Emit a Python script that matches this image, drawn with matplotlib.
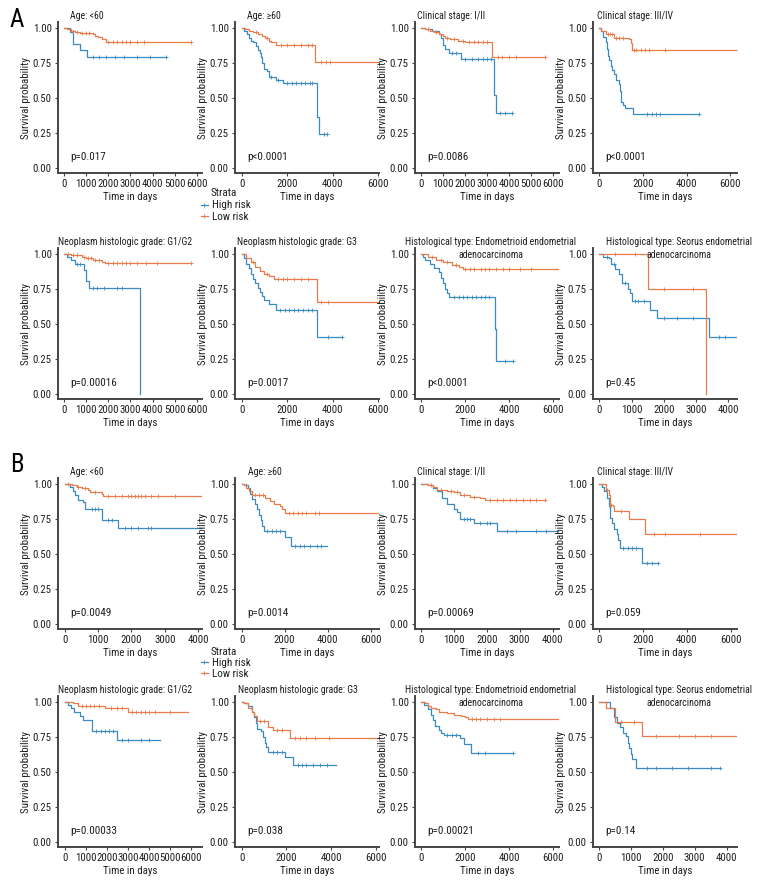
import numpy as np
import matplotlib
matplotlib.use("Agg")
import matplotlib.pyplot as plt
from matplotlib.lines import Line2D
from matplotlib import font_manager as fm

# ---- pick a condensed font if one is installed ----
_names = {f.name for f in fm.fontManager.ttflist}
_pref = ['Liberation Sans Narrow', 'Roboto Condensed', 'Open Sans Condensed',
         'Noto Sans Condensed', 'DejaVu Sans Condensed', 'Arial Narrow']
FONT = next((n for n in _pref if n in _names), None)
STRETCH = 'normal'
if FONT is None:
    _c = [f for f in fm.fontManager.ttflist
          if f.stretch in ('condensed', 'semi-condensed') and f.style == 'normal'
          and f.weight in (400, 'normal', 'regular')]
    if _c:
        FONT = _c[0].name
        STRETCH = _c[0].stretch
CONDENSED = FONT is not None
if FONT is None:
    FONT = 'Liberation Sans'
plt.rcParams['font.family'] = [FONT, 'DejaVu Sans']
plt.rcParams['font.stretch'] = STRETCH

# ---------------- data ----------------
# Panel A
A1_hi_t = [0, 250, 415, 720, 1030, 4615]
A1_hi_s = [1, 0.97, 0.885, 0.845, 0.79, 0.79]
A1_hi_c = [1300, 1600, 1900, 2300, 2700, 3300, 3900, 4615]
A1_lo_t = [0, 150, 300, 500, 700, 1300, 1400, 1550, 1700, 1880, 5750]
A1_lo_s = [1, 0.99, 0.98, 0.97, 0.965, 0.955, 0.945, 0.935, 0.92, 0.90, 0.90]
A1_lo_c = [400, 600, 800, 1000, 1150, 2000, 2200, 2400, 2600, 2800, 3000, 3300, 3600, 5750]

A2_hi_t = [0, 100, 200, 300, 400, 500, 600, 700, 800, 850, 900, 950, 1100, 1200, 1500, 1800, 3300, 3400, 3750]
A2_hi_s = [1, 0.98, 0.96, 0.93, 0.91, 0.90, 0.87, 0.84, 0.82, 0.79, 0.75, 0.71, 0.69, 0.65, 0.63, 0.61, 0.365, 0.245, 0.245]
A2_hi_c = [1300, 1600, 2000, 2200, 2400, 2600, 2800, 3000, 3100, 3600, 3750]
A2_lo_t = [0, 150, 300, 500, 700, 900, 1000, 1200, 1300, 1500, 3200, 6100]
A2_lo_s = [1, 0.99, 0.98, 0.97, 0.96, 0.94, 0.93, 0.91, 0.90, 0.88, 0.755, 0.755]
A2_lo_c = [600, 1100, 1700, 2000, 2300, 2600, 2900, 3100, 3500, 3700, 3900, 6100]

A3_hi_t = [0, 200, 500, 800, 900, 1000, 1100, 1250, 1800, 3330, 3420, 4150]
A3_hi_s = [1, 0.99, 0.98, 0.96, 0.93, 0.88, 0.85, 0.82, 0.78, 0.52, 0.39, 0.39]
A3_hi_c = [1400, 1600, 2000, 2300, 2600, 2800, 3000, 3200, 3600, 3800, 4150]
A3_lo_t = [0, 200, 400, 600, 800, 1000, 1100, 1300, 1700, 2000, 3230, 5650]
A3_lo_s = [1, 0.99, 0.98, 0.97, 0.96, 0.94, 0.93, 0.92, 0.91, 0.90, 0.79, 0.79]
A3_lo_c = [300, 700, 1200, 1500, 1900, 2200, 2400, 2600, 2800, 3000, 3500, 3700, 4000, 4300, 5650]

A4_hi_t = [0, 100, 200, 300, 350, 400, 450, 550, 600, 700, 800, 900, 950, 1000, 1100, 1200, 1540, 4560]
A4_hi_s = [1, 0.98, 0.935, 0.90, 0.85, 0.80, 0.77, 0.73, 0.70, 0.67, 0.63, 0.60, 0.55, 0.47, 0.45, 0.43, 0.383, 0.383]
A4_hi_c = [2200, 2400, 2600, 2800, 4560]
A4_lo_t = [0, 100, 330, 710, 1390, 1450, 1500, 6400]
A4_lo_s = [1, 0.98, 0.96, 0.928, 0.92, 0.89, 0.84, 0.84]
A4_lo_c = [400, 500, 600, 800, 900, 1100, 1600, 1700, 1900, 2100, 2300, 3000, 6400]

A5_hi_t = [0, 150, 300, 500, 900, 1000, 1150, 3415]
A5_hi_s = [1, 0.98, 0.96, 0.93, 0.887, 0.81, 0.755, 0.0]
A5_hi_c = [600, 700, 1300, 1500, 1800, 2400, 2600]
A5_lo_t = [0, 300, 500, 800, 1000, 1300, 1500, 1700, 1850, 5720]
A5_lo_s = [1, 0.995, 0.99, 0.98, 0.97, 0.96, 0.955, 0.945, 0.935, 0.935]
A5_lo_c = [200, 400, 600, 900, 1100, 1200, 1400, 1600, 2000, 2200, 2400, 2600, 2800, 3000, 3300, 3700, 4200, 5720]

A6_hi_t = [0, 100, 200, 300, 400, 500, 600, 700, 800, 900, 1000, 1200, 1500, 3300, 4400]
A6_hi_s = [1, 0.97, 0.93, 0.90, 0.86, 0.82, 0.79, 0.76, 0.73, 0.70, 0.67, 0.64, 0.60, 0.41, 0.41]
A6_hi_c = [1700, 1900, 2100, 2300, 2500, 2700, 2900, 3100, 3800, 4400]
A6_lo_t = [0, 200, 400, 600, 800, 1000, 1200, 1400, 3300, 6100]
A6_lo_s = [1, 0.97, 0.94, 0.91, 0.88, 0.86, 0.84, 0.82, 0.66, 0.66]
A6_lo_c = [500, 1100, 1600, 1800, 2000, 2300, 2600, 2900, 3500, 3800, 6100]

A7_hi_t = [0, 100, 200, 400, 600, 800, 900, 1000, 1100, 1200, 1250, 3360, 3410, 4170]
A7_hi_s = [1, 0.98, 0.96, 0.93, 0.90, 0.87, 0.83, 0.79, 0.75, 0.72, 0.693, 0.465, 0.238, 0.238]
A7_hi_c = [1500, 1700, 1900, 2100, 2300, 2500, 2700, 2900, 3100, 3800, 4170]
A7_lo_t = [0, 300, 700, 1000, 1400, 1700, 1900, 2500, 6320]
A7_lo_s = [1, 0.98, 0.96, 0.94, 0.92, 0.91, 0.895, 0.89, 0.89]
A7_lo_c = [500, 900, 1200, 1600, 2000, 2200, 2400, 2700, 2900, 3100, 3400, 3700, 4000, 4500, 5000]

A8_hi_t = [0, 100, 300, 350, 500, 600, 700, 900, 950, 1000, 1570, 1790, 3400, 4300]
A8_hi_s = [1, 0.98, 0.97, 0.93, 0.89, 0.86, 0.79, 0.75, 0.72, 0.663, 0.60, 0.543, 0.404, 0.404]
A8_hi_c = [250, 450, 800, 1100, 1200, 1400, 2000, 2400, 2900, 3700, 3900]
A8_lo_t = [0, 1495, 3300]
A8_lo_s = [1, 0.748, 0.0]
A8_lo_c = [500, 1100, 2000, 2900]

# Panel B
B1_hi_t = [0, 150, 250, 300, 400, 550, 600, 1100, 1600, 4200]
B1_hi_s = [1, 0.98, 0.95, 0.92, 0.888, 0.87, 0.824, 0.745, 0.686, 0.686]
B1_hi_c = [800, 900, 1000, 1300, 1400, 1800, 2000, 2200, 2500, 2600]
B1_lo_t = [0, 200, 350, 500, 700, 750, 1100, 1150, 4200]
B1_lo_s = [1, 0.99, 0.98, 0.97, 0.96, 0.94, 0.93, 0.917, 0.917]
B1_lo_c = [100, 400, 600, 900, 1300, 1500, 1700, 1900, 2000, 2100, 2200, 2300, 2400, 2600, 2800, 3300]

B2_hi_t = [0, 100, 300, 400, 500, 600, 700, 800, 900, 950, 1050, 2000, 2300, 3950]
B2_hi_s = [1, 0.99, 0.97, 0.93, 0.89, 0.86, 0.82, 0.78, 0.74, 0.70, 0.662, 0.62, 0.56, 0.56]
B2_hi_c = [200, 1200, 1400, 1600, 1800, 2500, 2700, 2900, 3200, 3500, 3700]
B2_lo_t = [0, 100, 200, 350, 500, 1100, 1300, 1500, 1800, 1900, 2000, 6400]
B2_lo_s = [1, 0.99, 0.97, 0.95, 0.92, 0.90, 0.88, 0.86, 0.84, 0.82, 0.795, 0.795]
B2_lo_c = [600, 800, 1000, 2200, 2400, 2600, 2800, 3000, 3400, 3600]

B3_hi_t = [0, 200, 350, 500, 650, 800, 1000, 1100, 1200, 1600, 2300, 4200]
B3_hi_s = [1, 0.99, 0.97, 0.95, 0.90, 0.86, 0.82, 0.80, 0.747, 0.72, 0.664, 0.664]
B3_hi_c = [1300, 1400, 1500, 1800, 2000, 2100, 2600, 2900, 3500, 3800]
B3_lo_t = [0, 200, 350, 500, 800, 1000, 1200, 1500, 1800, 1950, 3780]
B3_lo_s = [1, 0.99, 0.98, 0.96, 0.95, 0.945, 0.92, 0.91, 0.90, 0.889, 0.889]
B3_lo_c = [300, 600, 900, 1100, 1300, 1600, 2100, 2300, 2500, 2700, 2900, 3100, 3300, 3500, 3780]

B4_hi_t = [0, 150, 250, 350, 450, 500, 600, 700, 800, 850, 950, 1955, 2680]
B4_hi_s = [1, 0.98, 0.95, 0.90, 0.84, 0.76, 0.72, 0.68, 0.64, 0.60, 0.546, 0.437, 0.437]
B4_hi_c = [1100, 1300, 1500, 1700, 2200, 2400, 2680]
B4_lo_t = [0, 300, 450, 500, 650, 700, 1350, 2100, 6300]
B4_lo_s = [1, 0.96, 0.92, 0.85, 0.84, 0.81, 0.747, 0.64, 0.64]
B4_lo_c = [350, 550, 1000, 2500, 3000, 4600]

B5_hi_t = [0, 150, 300, 450, 700, 850, 1300, 2460, 4520]
B5_hi_s = [1, 0.98, 0.96, 0.93, 0.90, 0.87, 0.79, 0.732, 0.732]
B5_hi_c = [1500, 1700, 1900, 2100, 2300, 2700, 3000, 3600, 4000]
B5_lo_t = [0, 400, 600, 1900, 2980, 5850]
B5_lo_s = [1, 0.99, 0.97, 0.96, 0.928, 0.928]
B5_lo_c = [800, 1000, 1200, 1400, 1600, 2200, 2500, 2700, 3200, 3400, 3600, 3800, 4000, 4300, 5000]

B6_hi_t = [0, 100, 300, 450, 550, 650, 700, 850, 950, 1050, 1100, 1200, 1950, 2300, 4215]
B6_hi_s = [1, 0.99, 0.97, 0.93, 0.89, 0.85, 0.81, 0.79, 0.75, 0.71, 0.68, 0.644, 0.61, 0.55, 0.55]
B6_hi_c = [1400, 1600, 1800, 2500, 2700, 2900, 3200, 3500, 3800]
B6_lo_t = [0, 100, 300, 450, 550, 700, 1200, 1400, 2150, 6400]
B6_lo_s = [1, 0.99, 0.96, 0.93, 0.90, 0.867, 0.82, 0.80, 0.744, 0.744]
B6_lo_c = [800, 1000, 1600, 1800, 2400, 2600, 2900, 3300, 3900]

B7_hi_t = [0, 150, 300, 450, 550, 650, 800, 900, 1050, 1750, 1950, 2270, 4200]
B7_hi_s = [1, 0.98, 0.95, 0.91, 0.87, 0.83, 0.80, 0.78, 0.764, 0.74, 0.70, 0.638, 0.638]
B7_hi_c = [1200, 1400, 1600, 2600, 2900, 4200]
B7_lo_t = [0, 200, 300, 450, 700, 800, 1200, 1500, 1800, 2000, 2150, 6320]
B7_lo_s = [1, 0.99, 0.97, 0.96, 0.95, 0.93, 0.92, 0.91, 0.90, 0.89, 0.879, 0.879]
B7_lo_c = [2300, 2500, 2700, 3000, 3300, 3600]

B8_hi_t = [0, 350, 480, 550, 650, 750, 850, 900, 950, 1000, 1050, 1150, 3780]
B8_hi_s = [1, 0.96, 0.89, 0.85, 0.82, 0.78, 0.76, 0.71, 0.67, 0.63, 0.593, 0.527, 0.527]
B8_hi_c = [1500, 1800, 2300, 2800, 3500, 3780]
B8_lo_t = [0, 220, 500, 1360, 4326]
B8_lo_s = [1, 0.96, 0.86, 0.755, 0.755]
B8_lo_c = [700, 1100, 1800, 2500, 3000, 3500]

titles = ["Age: <60", "Age: \u226560", "Clinical stage: I/II", "Clinical stage: III/IV",
          "Neoplasm histologic grade: G1/G2", "Neoplasm histologic grade: G3",
          "Histological type: Endometrioid endometrial\nadenocarcinoma",
          "Histological type: Seorus endometrial\nadenocarcinoma"]
pvals_A = ["p=0.017", "p<0.0001", "p=0.0086", "p<0.0001", "p=0.00016", "p=0.0017", "p<0.0001", "p=0.45"]
pvals_B = ["p=0.0049", "p=0.0014", "p=0.00069", "p=0.059", "p=0.00033", "p=0.038", "p=0.00021", "p=0.14"]
xtick_max_A = [6000, 6000, 6000, 6000, 6000, 6000, 6000, 4000]
xtick_step_A = [1000, 2000, 1000, 2000, 1000, 2000, 2000, 1000]
xtick_max_B = [4000, 6000, 4000, 6000, 6000, 6000, 6000, 4000]
xtick_step_B = [1000, 2000, 1000, 2000, 1000, 2000, 2000, 1000]
strata = ["High risk", "Low risk"]

curves_A = [
    (A1_hi_t, A1_hi_s, A1_hi_c, A1_lo_t, A1_lo_s, A1_lo_c),
    (A2_hi_t, A2_hi_s, A2_hi_c, A2_lo_t, A2_lo_s, A2_lo_c),
    (A3_hi_t, A3_hi_s, A3_hi_c, A3_lo_t, A3_lo_s, A3_lo_c),
    (A4_hi_t, A4_hi_s, A4_hi_c, A4_lo_t, A4_lo_s, A4_lo_c),
    (A5_hi_t, A5_hi_s, A5_hi_c, A5_lo_t, A5_lo_s, A5_lo_c),
    (A6_hi_t, A6_hi_s, A6_hi_c, A6_lo_t, A6_lo_s, A6_lo_c),
    (A7_hi_t, A7_hi_s, A7_hi_c, A7_lo_t, A7_lo_s, A7_lo_c),
    (A8_hi_t, A8_hi_s, A8_hi_c, A8_lo_t, A8_lo_s, A8_lo_c),
]
curves_B = [
    (B1_hi_t, B1_hi_s, B1_hi_c, B1_lo_t, B1_lo_s, B1_lo_c),
    (B2_hi_t, B2_hi_s, B2_hi_c, B2_lo_t, B2_lo_s, B2_lo_c),
    (B3_hi_t, B3_hi_s, B3_hi_c, B3_lo_t, B3_lo_s, B3_lo_c),
    (B4_hi_t, B4_hi_s, B4_hi_c, B4_lo_t, B4_lo_s, B4_lo_c),
    (B5_hi_t, B5_hi_s, B5_hi_c, B5_lo_t, B5_lo_s, B5_lo_c),
    (B6_hi_t, B6_hi_s, B6_hi_c, B6_lo_t, B6_lo_s, B6_lo_c),
    (B7_hi_t, B7_hi_s, B7_hi_c, B7_lo_t, B7_lo_s, B7_lo_c),
    (B8_hi_t, B8_hi_s, B8_hi_c, B8_lo_t, B8_lo_s, B8_lo_c),
]

# ---------------- layout / style ----------------
HI = "#3A8BC4"
LO = "#E97B4B"
SP = "#454545"
TXT = "#1e1e1e"
W, H = 768, 888
col_left = [58, 235, 415, 593]
axw = 144
row_tb = [(22.4, 172.9), (248.4, 398.9), (478.4, 628.9), (696.4, 846.9)]
xlim_A = [(-270, 6225), (-309, 6043), (-273, 6272), (-271, 6300),
          (-270, 6225), (-300, 6050), (-272, 6255), (-195, 4270)]
xlim_B = [(-210, 4120), (-310, 6390), (-182, 4195), (-273, 6290),
          (-330, 6520), (-300, 6150), (-273, 6270), (-188, 4326)]
title_pos_A = [(12, 'left'), (12, 'left'), (2, 'left'), (4, 'left'),
               (0, 'left'), (2, 'left'), (76, 'center'), (86, 'center')]
title_pos_B = [(12, 'left'), (13, 'left'), (2, 'left'), (4, 'left'),
               (0, 'left'), (3, 'left'), (76, 'center'), (86, 'center')]

FS = 7.8 if CONDENSED else 6.2          # tick labels
FT = 7.1 if CONDENSED else 6.0          # titles
FL = 7.8 if CONDENSED else 6.4          # axis labels
FP = 8.0 if CONDENSED else 6.8          # p-values / legend

fig = plt.figure(figsize=(W / 100, H / 100), dpi=100)


def step_value(t, s, x):
    idx = np.searchsorted(np.asarray(t), np.asarray(x), side='right') - 1
    return np.asarray(s)[idx]


def draw_panel(r, c, curve, xl, xmax, xstep, title, tpos, pval):
    top, bot = row_tb[r]
    left = col_left[c]
    ax = fig.add_axes([left / W, 1 - bot / H, axw / W, (bot - top) / H])
    ht, hs, hc, lt, ls, lc = curve
    for t, s, cen, col in ((ht, hs, hc, HI), (lt, ls, lc, LO)):
        ax.step(t, s, where='post', color=col, lw=0.9)
        ax.plot(cen, step_value(t, s, cen), ls='none', marker='+', ms=2.6,
                mew=0.6, color=col)
    ax.set_xlim(*xl)
    ax.set_ylim(-0.035, 1.04)
    ax.set_xticks(np.arange(0, xmax + 1, xstep))
    ax.set_yticks([0, 0.25, 0.5, 0.75, 1.0])
    ax.set_yticklabels(["0.00", "0.25", "0.50", "0.75", "1.00"])
    for side in ('top', 'right'):
        ax.spines[side].set_visible(False)
    for side in ('left', 'bottom'):
        ax.spines[side].set_color(SP)
        ax.spines[side].set_linewidth(1.4)
    ax.tick_params(length=2.5, width=0.8, color=SP, labelsize=FS, pad=2,
                   labelcolor=TXT)
    ax.set_xlabel("Time in days", fontsize=FL, labelpad=2, color=TXT)
    ax.set_ylabel("Survival probability", fontsize=FL, labelpad=1.5, color=TXT)
    hpx = bot - top
    tx, ha = tpos
    if ha == 'left':
        ax.text(tx / axw, 1 + 6 / hpx, title, transform=ax.transAxes, ha='left',
                va='center', fontsize=FT, color=TXT)
    else:
        # two-line centred title, each line drawn on its own
        for k, line in enumerate(title.split("\n")):
            ax.text(tx / axw, 1 + (6 - 13 * k) / hpx, line, transform=ax.transAxes,
                    ha='center', va='center', fontsize=FT, color=TXT)
    ax.text(12 / axw, 0.08, pval, transform=ax.get_yaxis_transform(), ha='left',
            va='center', fontsize=FP, color=TXT)
    return ax


for i in range(8):
    r, c = divmod(i, 4)
    draw_panel(r, c, curves_A[i], xlim_A[i], xtick_max_A[i], xtick_step_A[i],
               titles[i], title_pos_A[i], pvals_A[i])
    draw_panel(r + 2, c, curves_B[i], xlim_B[i], xtick_max_B[i], xtick_step_B[i],
               titles[i], title_pos_B[i], pvals_B[i])

handles = [Line2D([], [], color=HI, lw=0.9, marker='+', ms=2.6, mew=0.6),
           Line2D([], [], color=LO, lw=0.9, marker='+', ms=2.6, mew=0.6)]
for strata_y, first_y in ((193, 207), (652, 664)):
    fig.text(211 / W, 1 - strata_y / H, "Strata", ha='left', va='center',
             fontsize=FP, color=TXT)
    fig.legend(handles, strata, loc='upper left',
               bbox_to_anchor=(201 / W, 1 - (first_y - 6.5) / H),
               frameon=False, fontsize=FP, handlelength=0.6,
               handletextpad=0.4, labelspacing=0.15, borderpad=0,
               borderaxespad=0, labelcolor=TXT)

fig.text(17 / W, 1 - 20 / H, "A", ha='center', va='center', fontsize=18)
fig.text(17 / W, 1 - 465 / H, "B", ha='center', va='center', fontsize=18)

fig.savefig("out.png", dpi=100)
